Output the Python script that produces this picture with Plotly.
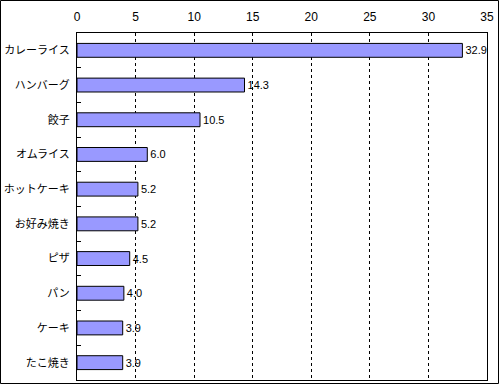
import plotly.graph_objects as go

categories = ["カレーライス", "ハンバーグ", "餃子", "オムライス", "ホットケーキ",
              "お好み焼き", "ピザ", "パン", "ケーキ", "たこ焼き"]
values = [32.9, 14.3, 10.5, 6.0, 5.2, 5.2, 4.5, 4.0, 3.9, 3.9]
x_ticks = [0, 5, 10, 15, 20, 25, 30, 35]

fig = go.Figure(go.Bar(
    x=values, y=categories, orientation="h",
    marker=dict(color="#9999FF", line=dict(color="black", width=1)),
    width=0.4,
    text=[f"{v:.1f}" for v in values], textposition="outside",
    textfont=dict(family="Liberation Sans", size=11, color="black"),
    cliponaxis=False,
))

L, R, T, B = 77, 487, 33, 380
W, H = R - L, B - T

fig.update_layout(
    width=500, height=385,
    margin=dict(l=L, r=500 - R, t=T, b=385 - B, pad=0, autoexpand=False),
    paper_bgcolor="white", plot_bgcolor="white",
    showlegend=False,
    font=dict(family="Noto Sans CJK JP", size=11, color="black"),
    xaxis=dict(side="top", range=[0, 35], tickvals=x_ticks, automargin=False,
               showgrid=True, gridcolor="black", gridwidth=1, griddash="3px,3px",
               showline=True, linecolor="black", linewidth=1, mirror=True,
               ticks="", zeroline=False, ticklabelstandoff=6,
               tickfont=dict(family="Liberation Sans", size=12)),
    yaxis=dict(autorange="reversed", type="category", automargin=False,
               showline=True, linecolor="black", linewidth=1, mirror=True,
               ticks="inside", tickson="boundaries", ticklen=4, tickcolor="black",
               showgrid=False, ticklabelstandoff=4,
               tickfont=dict(family="Noto Sans CJK JP", size=11)),
    shapes=[dict(type="rect", xref="paper", yref="paper",
                 x0=(0.5 - L) / W, x1=(498.5 - L) / W,
                 y0=(B - 383.5) / H, y1=(B - 0.5) / H,
                 line=dict(color="black", width=1), layer="above")],
)

fig.write_html("out.html", config={"displayModeBar": False},
               post_script="document.body.style.margin='0';document.body.style.padding='0';")
